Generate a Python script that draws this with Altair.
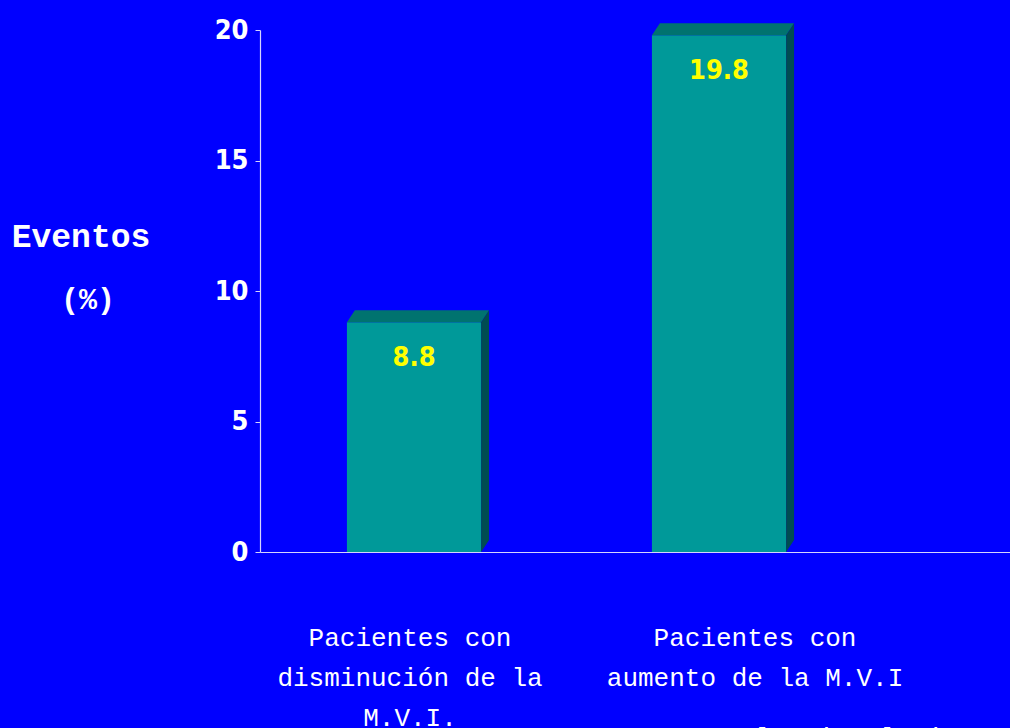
import altair as alt
import pandas as pd

# ---- data -------------------------------------------------------------
categories = ["disminucion", "aumento"]
eventos = [8.8, 19.8]
value_labels = ["8.8", "19.8"]
category_labels = [
    ["Pacientes con", "disminución de la", "M.V.I."],
    ["Pacientes con", "aumento de la M.V.I"],
]
y_ticks = [0, 5, 10, 15, 20]
citation = "Verma N, et al. Circulation  2003;1"

# ---- styling ------------------------------------------------------------
BG = "#0000FF"
FRONT = "#009999"
TOP = "#00736F"
SIDE = "#004C52"
AXIS = "#D4D4FF"
YELLOW = "#FFFF00"
NARROW = "DejaVu Sans Condensed, Liberation Sans Narrow, sans-serif"
MONO = "Liberation Mono, monospace"

HALF = 0.22   # half of the bar width, in slot units
DX = 0.026    # 3-D depth, horizontal (slot units)
DY = 0.46     # 3-D depth, vertical (value units)

slots = list(range(len(categories)))
bars = pd.DataFrame({"slot": slots, "cat": categories, "v": eventos,
                     "label": value_labels})
bars["left"] = bars["slot"] - HALF
bars["right"] = bars["slot"] + HALF
bars["zero"] = 0.0

# extruded faces of each bar (top parallelogram and right side)
rows = []
for s, c, v in zip(slots, categories, eventos):
    L, R = s - HALF, s + HALF
    for x, y, y2 in [(L, v, v), (L + DX, v + DY, v), (R, v + DY, v), (R + DX, v + DY, v + DY)]:
        rows.append({"cat": c, "face": "top", "x": x, "y": y, "y2": y2})
    for x, y, y2 in [(R, v, 0.0), (R + DX, v + DY, DY)]:
        rows.append({"cat": c, "face": "side", "x": x, "y": y, "y2": y2})
faces = pd.DataFrame(rows)

labels = pd.DataFrame({"slot": slots, "text": category_labels})

xscale = alt.Scale(domain=[-0.505, 1.954], nice=False, zero=False)
yscale = alt.Scale(domain=[0, 20], nice=False)

x_axis = alt.Axis(labels=False, ticks=False, title=None, grid=False,
                  domainColor=AXIS, domainWidth=1.2, zindex=1)
y_axis = alt.Axis(values=y_ticks, title=None, grid=False, domainColor=AXIS,
                  domainWidth=1.2, tickColor=AXIS, tickSize=5, labelColor="white",
                  labelFont=NARROW, labelFontSize=27, labelFontWeight="bold",
                  labelPadding=7)

front = alt.Chart(bars).mark_rect(color=FRONT).encode(
    x=alt.X("left:Q", scale=xscale, axis=x_axis),
    x2="right:Q",
    y=alt.Y("zero:Q", scale=yscale, axis=y_axis),
    y2="v:Q",
)

depth = alt.Chart(faces).mark_area(interpolate="linear").encode(
    x=alt.X("x:Q", scale=xscale),
    y=alt.Y("y:Q", scale=yscale),
    y2="y2:Q",
    detail=["cat:N", "face:N"],
    color=alt.Color("face:N", scale=alt.Scale(domain=["top", "side"], range=[TOP, SIDE]),
                    legend=None),
)

values = alt.Chart(bars).mark_text(
    color=YELLOW, font=NARROW, fontSize=27, fontWeight="bold",
    baseline="middle", dy=36,
).encode(x=alt.X("slot:Q", scale=xscale), y=alt.Y("v:Q", scale=yscale), text="label:N")

def cat_label(i, dx):
    return alt.Chart(labels).transform_filter(alt.datum.slot == i).mark_text(
        color="white", font=MONO, fontSize=26, lineHeight=40,
        baseline="alphabetic", align="center", dx=dx,
    ).encode(x=alt.X("slot:Q", scale=xscale), y=alt.value(616), text="text")

one = pd.DataFrame({"k": [0]})
title1 = alt.Chart(one).mark_text(
    text="Eventos", color="white", font=MONO, fontSize=33, fontWeight="bold",
    align="center", baseline="middle",
).encode(x=alt.value(-179), y=alt.value(207))
title2 = alt.Chart(one).mark_text(
    text="(%)", color="white", font=MONO, fontSize=30, fontWeight="bold",
    align="center", baseline="middle",
).encode(x=alt.value(-172), y=alt.value(270))
cite = alt.Chart(one).mark_text(
    text=citation, color="white", font=MONO, fontSize=26,
    align="left", baseline="alphabetic",
).encode(x=alt.value(293), y=alt.value(716))

chart = alt.layer(
    front, depth, values, cat_label(0, -4), cat_label(1, 36), title1, title2, cite
).properties(
    width=750, height=522,
    background=BG,
    padding={"left": 260, "top": 30, "right": 0, "bottom": 176},
    autosize=alt.AutoSizeParams(type="none"),
).configure_view(stroke=None)

chart.save("out.html", embed_options={"renderer": "svg", "actions": False})
